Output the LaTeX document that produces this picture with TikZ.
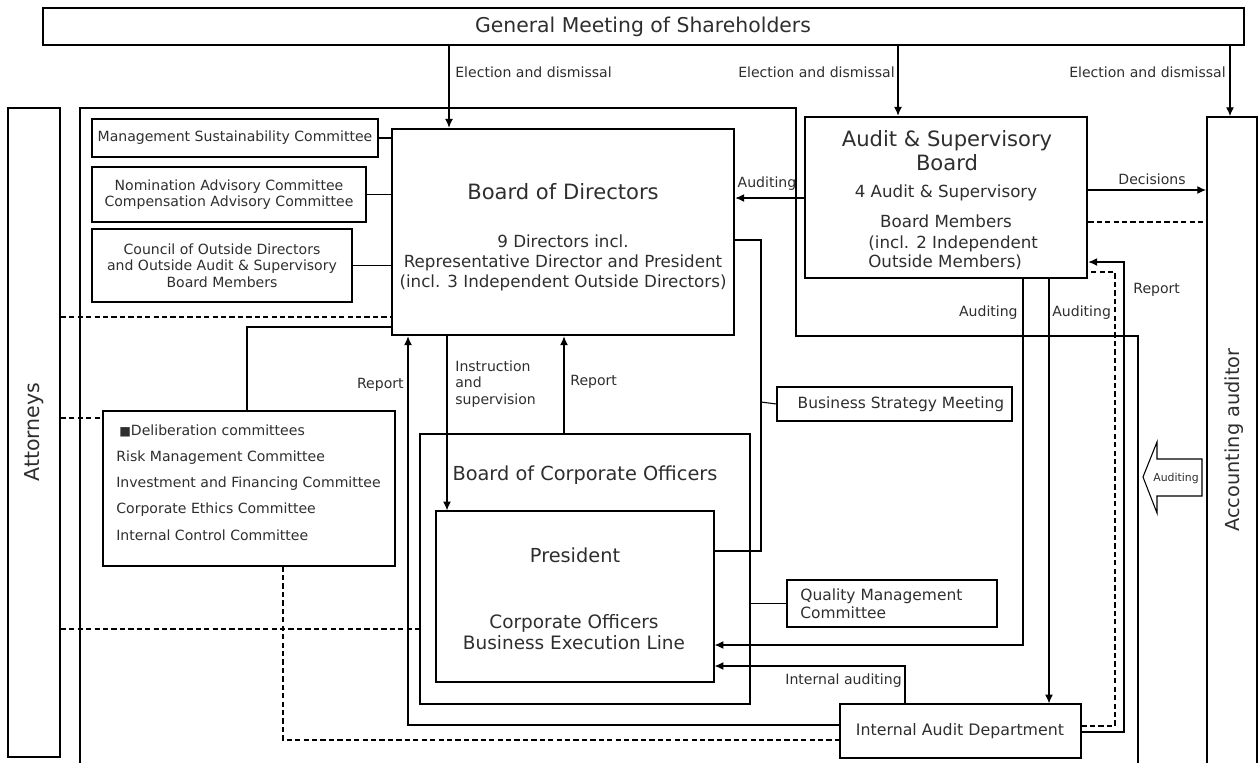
\documentclass[tikz,border=0pt]{standalone}
\usepackage{fontspec}
\setmainfont{DejaVu Sans}
\usetikzlibrary{arrows.meta,fit,calc}
\begin{document}
\begin{tikzpicture}[x=0.02cm,y=-0.02cm,
  thinln/.style={line width=0.6pt},
  boxthin/.style={draw, line width=0.7pt, inner sep=0pt},
  boxmed/.style={draw, line width=0.9pt, inner sep=0pt},
  boxthick/.style={draw, line width=1.5pt, inner sep=0pt},
  txt/.style={inner sep=0pt, text=black!82},
  lbl/.style={txt, font=\fontsize{8}{9.6}\selectfont},
  cmt/.style={txt, font=\fontsize{8}{9.4}\selectfont},
  arr/.style={line width=0.6pt, -{Latex[length=5pt,width=4.5pt]}},
  dsh/.style={line width=0.6pt, dash pattern=on 3pt off 1.8pt},
]
\useasboundingbox (0,0) rectangle (1258,762);

% ---- boxes ----
\node[boxthick, fit={(43,8) (1244,45)}] (gm) {};
\node[txt, font=\fontsize{11.6}{14}\selectfont] (gmt) at (643,27) {General Meeting of Shareholders};

\node[boxmed, fit={(8,108) (60,757)}] (att) {};
\node[txt, rotate=90, font=\fontsize{11.7}{14}\selectfont] (attt) at (34,432) {Attorneys};

\node[draw, line width=1.1pt, inner sep=0pt, fit={(1207,117) (1257,790)}] (aa) {};
\node[txt, rotate=90, font=\fontsize{11}{13}\selectfont] (aat) at (1234,440) {Accounting auditor};

% frame
\draw[thinln] (80,790) -- (80,108) -- (796,108) -- (796,336) -- (1138,336) -- (1138,790);

\node[boxthin, fit={(92,119) (378,157)}] (msc) {};
\node[cmt] (msct) at (msc.center) {Management Sustainability Committee};
\node[boxthin, fit={(92,167) (366,222)}] (nac) {};
\node[cmt, align=center] (nact) at (nac.center) {Nomination Advisory Committee\\Compensation Advisory Committee};
\node[boxthin, fit={(92,229) (352,302)}] (cod) {};
\node[cmt, align=center] (codt) at (cod.center) {Council of Outside Directors\\and Outside Audit \& Supervisory\\Board Members};

\node[boxthick, fit={(392,129) (734,335)}] (bod) {};
\node[txt, font=\fontsize{12}{14}\selectfont] (bodt) at (563,192) {Board of Directors};
\node[txt, font=\fontsize{9.5}{11.2}\selectfont, align=center] (bodm) at (563,263)
  {9 Directors incl.\\Representative Director and President\\(incl. 3 Independent Outside Directors)};

\node[boxthick, fit={(805,117) (1087,278)}] (asb) {};
\node[txt, font=\fontsize{12}{13.6}\selectfont, align=center] (asbt) at (947,151) {Audit \& Supervisory\\Board};
\node[txt, font=\fontsize{9.5}{11}\selectfont] (asbm1) at (946,193) {4 Audit \& Supervisory};
\node[txt, font=\fontsize{9.5}{11}\selectfont] (asbm2) at (946,221) {Board Members};
\node[txt, font=\fontsize{9.5}{11}\selectfont, align=left, anchor=west] (asbm3) at (868,253) {(incl. 2 Independent\\Outside Members)};

\node[boxthin, fit={(103,411) (395,566)}] (delib) {};
\node[cmt, anchor=west] (dl0) at (119,431) {{\fontsize{7}{8}\selectfont ■}Deliberation committees};
\node[cmt, anchor=west] (dl1) at (116,458) {Risk Management Committee};
\node[cmt, anchor=west] (dl2) at (116,484) {Investment and Financing Committee};
\node[cmt, anchor=west] (dl3) at (116,510) {Corporate Ethics Committee};
\node[cmt, anchor=west] (dl4) at (116,535) {Internal Control Committee};

\node[draw, line width=1.3pt, inner sep=0pt, fit={(420,434) (750,704)}] (boco) {};
\node[txt, font=\fontsize{11}{13}\selectfont] (bocot) at (585,475) {Board of Corporate Officers};
\node[boxthin, fit={(436,511) (714,682)}] (pres) {};
\node[txt, font=\fontsize{11}{13}\selectfont] (prest) at (575,555) {President};
\node[txt, font=\fontsize{10.5}{11.6}\selectfont, align=center] (presm) at (574,632) {Corporate Officers\\Business Execution Line};

\node[boxthin, fit={(777,387) (1012,421)}] (bsm) {};
\node[txt, font=\fontsize{8.8}{10}\selectfont] (bsmt) at (901,404) {Business Strategy Meeting};

\node[boxthin, fit={(787,580) (997,627)}] (qmc) {};
\node[txt, font=\fontsize{8.8}{10.2}\selectfont, align=left, anchor=west] (qmct) at (800,604) {Quality Management\\Committee};

\node[boxthin, fit={(840,704) (1081,758)}] (iad) {};
\node[txt, font=\fontsize{9}{10}\selectfont] (iadt) at (960,731) {Internal Audit Department};

% ---- connectors ----
\draw[arr] (gm.south -| 449,0) -- (bod.north -| 449,0);
\node[lbl, anchor=west] (l1) at (455,72) {Election and dismissal};
\draw[arr] (gm.south -| 898,0) -- (asb.north -| 898,0);
\node[lbl, anchor=east] (l2) at (895,72) {Election and dismissal};
\draw[arr] (gm.south -| 1230,0) -- (aa.north -| 1230,0);
\node[lbl, anchor=east] (l3) at (1226,72) {Election and dismissal};

\draw[thinln] (msc.east) -- (msc.east -| bod.west);
\draw[thinln] (nac.east) -- (nac.east -| bod.west);
\draw[thinln] (cod.east) -- (cod.east -| bod.west);

\draw[arr] (asb.west |- 0,198) -- (bod.east |- 0,198);
\node[lbl] (la) at (767,184) {Auditing};
\draw[arr] (asb.east |- 0,190) -- (aa.west |- 0,190);
\node[lbl] (ld) at (1152,179) {Decisions};
\draw[dsh] (asb.east |- 0,222) -- (aa.west |- 0,222);

\coordinate (bsmj) at (761,402);
\draw[thinln] (bod.east |- 0,240) -| (bsmj) |- (pres.east |- 0,551);
\draw[thinln] (bsmj) -- (bsm.west);

\draw[thinln] (delib.north -| 247,0) |- (bod.west |- 0,327);
\draw[dsh] (att.east |- 0,317) -- (bod.west |- 0,317);
\draw[dsh] (att.east |- 0,418) -- (delib.west |- 0,418);
\draw[dsh] (att.east |- 0,629) -- (boco.west |- 0,629);
\draw[dsh] (delib.south -| 283,0) |- (iad.west |- 0,740);

\draw[arr] (iad.west |- 0,725) -| (bod.south -| 408,0);
\node[lbl, anchor=east] (lr1) at (404,385) {Report};
\draw[arr] (bod.south -| 447,0) -- (pres.north -| 447,0);
\node[lbl, anchor=north west, align=left] (li) at (455,360) {Instruction\\and\\supervision};
\draw[arr] (boco.north -| 564,0) -- (bod.south -| 564,0);
\node[lbl, anchor=west] (lr2) at (570,382) {Report};

\draw[thinln] (qmc.west) -- (qmc.west -| boco.east);

\draw[arr] (asb.south -| 1023,0) |- (pres.east |- 0,645);
\node[lbl, anchor=east] (la2) at (1018,313) {Auditing};
\draw[arr] (asb.south -| 1049,0) -- (iad.north -| 1049,0);
\node[lbl, anchor=west] (la3) at (1052,313) {Auditing};
\draw[arr] (iad.north -| 905,0) |- (pres.east |- 0,666);
\node[lbl, anchor=east] (lia) at (902,681) {Internal auditing};

\coordinate (repc) at (1124,262);
\draw[arr] (iad.east |- 0,732) -| (repc) -- (asb.east |- repc);
\coordinate (dshc) at (1115,272);
\draw[dsh] (iad.east |- 0,726) -| (dshc) -- (asb.east |- dshc);
\node[lbl, anchor=west] (lr3) at (1133,290) {Report};

% hollow arrow
\draw[line width=0.6pt] (1202,459) -- (1157,459) -- (1157,442) -- (1143,477) -- (1157,513) -- (1157,496) -- (1202,496) -- cycle;
\node[txt, font=\fontsize{6.2}{7}\selectfont] (hat) at (1176,478) {Auditing};
\end{tikzpicture}
\end{document}
